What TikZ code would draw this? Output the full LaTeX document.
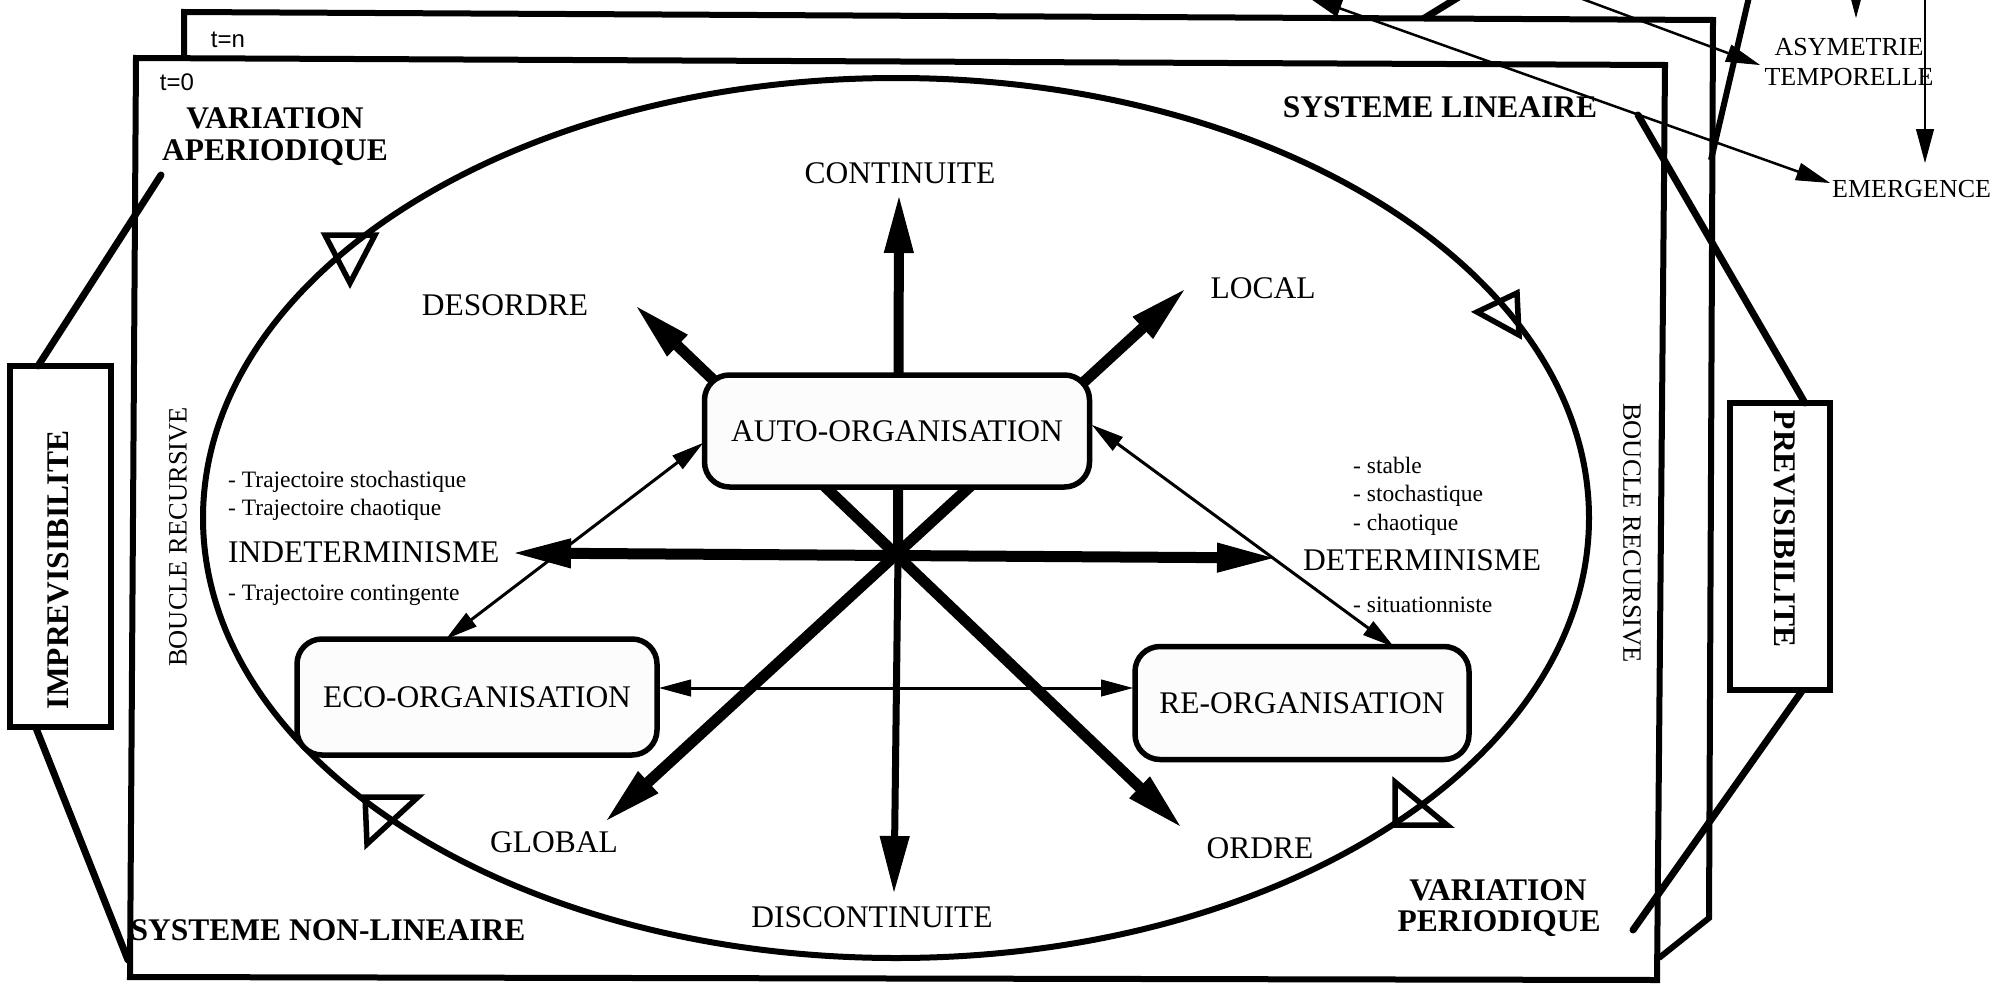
\documentclass[tikz,border=0pt]{standalone}
\usepackage{fontspec}
\setmainfont{Liberation Serif}
\newfontfamily\tagsans{Liberation Sans}
\usetikzlibrary{arrows.meta,calc}

\begin{document}
\begin{tikzpicture}[x=1pt,y=-1pt,
  frameline/.style={line width=6pt,line join=miter},
  hexline/.style={line width=7pt,line cap=round},
  lbl/.style={inner sep=0pt,anchor=base,font=\fontsize{31.5}{36}\selectfont},
  blbl/.style={inner sep=0pt,anchor=base,font=\fontsize{31.5}{36}\selectfont\bfseries},
  smalltxt/.style={inner sep=0pt,anchor=base west,font=\fontsize{23.5}{28}\selectfont},
  uptxt/.style={inner sep=0pt,font=\fontsize{26}{30}\selectfont},
  vbox/.style={draw,line width=5.5pt,inner sep=0pt},
  orgbox/.style={draw,line width=5.5pt,rounded corners=25pt,fill=black!1,inner sep=0pt,
    font=\fontsize{31.5}{36}\selectfont},
  bigtip/.style={-{Triangle[length=56pt,width=30pt,line width=1pt]}},
  bigboth/.style={{Triangle[length=56pt,width=30pt,line width=1pt]}-{Triangle[length=56pt,width=30pt,line width=1pt]}},
  thinboth/.style={line width=3pt,{Triangle[length=32pt,width=17pt,line width=1pt]}-{Triangle[length=32pt,width=17pt,line width=1pt]}},
  thintip/.style={line width=2.5pt,-{Triangle[length=34pt,width=18pt,line width=1pt]}},
  thinpair/.style={line width=2.5pt,{Triangle[length=34pt,width=18pt,line width=1pt]}-{Triangle[length=34pt,width=18pt,line width=1pt]}},
  marker/.style={line width=5.5pt,line join=miter}
]
\useasboundingbox (0,0) rectangle (1996,985);
\clip (0,0) rectangle (1996,985);

% ---- the two time planes ----
\draw[frameline] (184,58) -- (184,12) -- (1713,20) -- (1709,918) -- (1659,958);
\draw[frameline] (136,58) -- (1665,65) -- (1657,980) -- (130,977) -- cycle;
\node[inner sep=0pt,anchor=base,font=\tagsans\fontsize{24}{28}\selectfont] (tn) at (228,47) {t=n};
\node[inner sep=0pt,anchor=base,font=\tagsans\fontsize{24}{28}\selectfont] (t0) at (177,90) {t=0};

% ---- side boxes and their links ----
\node[vbox,minimum width=101pt,minimum height=361pt] (impbox) at (60.5,546.5) {};
\node[vbox,minimum width=100pt,minimum height=287pt] (prevbox) at (1780,546.5) {};
\node[inner sep=0pt,rotate=90,font=\fontsize{31.5}{36}\selectfont\bfseries] (imp) at (58.5,570) {IMPREVISIBILITE};
\node[inner sep=0pt,rotate=-90,font=\fontsize{31.5}{36}\selectfont\bfseries] (prev) at (1785,529) {PREVISIBILITE};

\coordinate (hexA) at (161,175);
\coordinate (hexB) at (38,366);
\coordinate (hexC) at (36,728);
\coordinate (hexD) at (128,960);
\coordinate (hexE) at (1638,115);
\coordinate (hexF) at (1805,403);
\coordinate (hexG) at (1802,691);
\coordinate (hexH) at (1633,930);
\draw[hexline] (hexA) -- (hexB);
\draw[hexline] (hexC) -- (hexD);
\draw[hexline] (hexE) -- (hexF);
\draw[hexline] (hexG) -- (hexH);

% ---- recursive loop ----
\draw[line width=6pt] (896,518) ellipse [x radius=693, y radius=440];
\draw[marker] (325,235) -- (375,235) -- (350,283) -- cycle;
\draw[marker] (1477,312) -- (1517,293) -- (1519,335) -- cycle;
\draw[marker] (365,797) -- (418,797) -- (367,844) -- cycle;
\draw[marker] (1395,782) -- (1395,825) -- (1447,825) -- cycle;

% ---- central star of axes ----
\coordinate (hub) at (898,556);
\coordinate (tipC) at (899,197);
\coordinate (tipDc) at (894,892);
\coordinate (tipI) at (515,553);
\coordinate (tipD) at (1273,558);
\coordinate (tipDes) at (637,307);
\coordinate (tipO) at (1180,826);
\coordinate (tipL) at (1184,290);
\coordinate (tipG) at (607,820);
\draw[line width=10pt,bigtip] (hub) -- (tipC);
\draw[line width=7pt,bigtip] (hub) -- (tipDc);
\draw[line width=11pt,bigboth] (tipI) -- (tipD);
\draw[line width=11pt,bigboth] (tipDes) -- (tipO);
\draw[line width=11pt,bigboth] (tipL) -- (tipG);

% ---- organisation boxes ----
\node[orgbox,minimum width=385pt,minimum height=112pt] (auto) at (897,431) {AUTO-ORGANISATION};
\node[orgbox,minimum width=360pt,minimum height=116pt] (eco) at (477,697) {ECO-ORGANISATION};
\node[orgbox,minimum width=334pt,minimum height=113pt] (reorg) at (1302,703) {RE-ORGANISATION};

\coordinate (ecoN) at (446,639);
\coordinate (autoW) at (703,443);
\coordinate (autoE) at (1092,425);
\coordinate (reN) at (1394,647);
\coordinate (ecoE) at (659,688);
\coordinate (reW) at (1133,688);
\draw[thinboth] (ecoN) -- (autoW);
\draw[thinboth] (autoE) -- (reN);
\draw[thinboth] (ecoE) -- (reW);

% ---- axis labels ----
\node[lbl] (continuite) at (900,183) {CONTINUITE};
\node[lbl] (desordre) at (505,315) {DESORDRE};
\node[lbl] (local) at (1263,298) {LOCAL};
\node[lbl,anchor=base west] (indet) at (228,562) {INDETERMINISME};
\node[lbl,anchor=base west] (det) at (1303,570) {DETERMINISME};
\node[lbl] (global) at (554,852) {GLOBAL};
\node[lbl] (ordre) at (1260,858) {ORDRE};
\node[lbl] (discont) at (872,927) {DISCONTINUITE};

\node[smalltxt] (ts) at (228,487) {- Trajectoire stochastique};
\node[smalltxt] (tc) at (228,515) {- Trajectoire chaotique};
\node[smalltxt] (tg) at (228,600) {- Trajectoire contingente};
\node[smalltxt] (ds) at (1353,473) {- stable};
\node[smalltxt] (dst) at (1353,501) {- stochastique};
\node[smalltxt] (dc) at (1353,530) {- chaotique};
\node[smalltxt] (dsi) at (1353,612) {- situationniste};

\node[inner sep=0pt,rotate=90,font=\fontsize{26.5}{30}\selectfont] (bl) at (178,537) {BOUCLE RECURSIVE};
\node[inner sep=0pt,rotate=-90,font=\fontsize{26.5}{30}\selectfont] (br) at (1632,533) {BOUCLE RECURSIVE};

% ---- system labels ----
\node[blbl] (va1) at (275,128) {VARIATION};
\node[blbl] (va2) at (275,160) {APERIODIQUE};
\node[blbl] (vp1) at (1498,900) {VARIATION};
\node[blbl] (vp2) at (1499,931) {PERIODIQUE};
\node[blbl] (slin) at (1440,117) {SYSTEME LINEAIRE};
\node[blbl] (snl) at (328,940) {SYSTEME NON-LINEAIRE};

% ---- upper right links ----
\node[uptxt,align=center] (asym) at (1849,62) {ASYMETRIE\\TEMPORELLE};
\node[uptxt,anchor=base west] (emerg) at (1832,197) {EMERGENCE};

\coordinate (topA) at (1308,-3);
\coordinate (emW) at (1830,183);
\coordinate (topB) at (1577,-3);
\coordinate (asW) at (1760,65);
\coordinate (topC) at (1749,-3);
\coordinate (edgeC) at (1711,160);
\coordinate (topD) at (1462,-5);
\coordinate (edgeD) at (1423,19);
\coordinate (topE) at (1925,-3);
\coordinate (emN) at (1925,163);
\coordinate (topF) at (1856,-30);
\coordinate (asN) at (1856,18);
\draw[thinpair] (topA) -- (emW);
\draw[thintip] (topB) -- (asW);
\draw[line width=6pt] (topC) -- (edgeC);
\draw[line width=7pt] (edgeD) -- (topD);
\draw[thintip] (topE) -- (emN);
\draw[thintip] (topF) -- (asN);
\end{tikzpicture}
\end{document}
